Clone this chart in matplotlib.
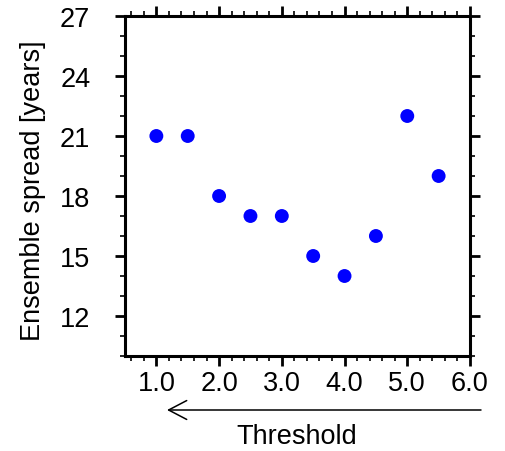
import matplotlib
matplotlib.use("Agg")
import matplotlib.pyplot as plt
from matplotlib.ticker import MultipleLocator

# data
threshold = [1.0, 1.5, 2.0, 2.5, 3.0, 3.5, 4.0, 4.5, 5.0, 5.5]
spread = [21, 21, 18, 17, 17, 15, 14, 16, 22, 19]
xticks = [1.0, 2.0, 3.0, 4.0, 5.0, 6.0]
xticklabels = ["1.0", "2.0", "3.0", "4.0", "5.0", "6.0"]
yticks = [12, 15, 18, 21, 24, 27]

plt.rcParams['font.family'] = ['Liberation Sans', 'DejaVu Sans']

W, H = 506, 452
fig = plt.figure(figsize=(W / 100, H / 100), dpi=100)
ax = fig.add_axes([125 / W, 1 - 357 / H, (470 - 125) / W, (357 - 17) / H])

ax.scatter(threshold, spread, s=100, color='#0000ff', edgecolors='none', zorder=3)

ax.set_xlim(0.5, 6.0)
ax.set_ylim(10, 27)
ax.set_xticks(xticks)
ax.set_xticklabels(xticklabels)
ax.set_yticks(yticks)
ax.xaxis.set_minor_locator(MultipleLocator(0.2))
ax.yaxis.set_minor_locator(MultipleLocator(1))

for s in ax.spines.values():
    s.set_linewidth(2.2)
ax.tick_params(which='both', direction='out', top=True, right=True,
               labeltop=False, labelright=False, labelsize=19.5)
ax.tick_params(which='major', length=7, width=2)
ax.tick_params(which='minor', length=3.3, width=1.2)
ax.tick_params(axis='x', which='major', pad=3)
ax.tick_params(axis='y', which='major', pad=18)

ax.set_ylabel("Ensemble spread [years]", fontsize=19.5)
ax.yaxis.set_label_coords((46 - 125) / 345, 0.49)

# arrow under the tick labels, pointing to lower threshold
y_arrow = 1 - 411 / H
ax.annotate('', xy=(167 / W, y_arrow), xytext=(481 / W, y_arrow),
            xycoords='figure fraction', textcoords='figure fraction',
            arrowprops=dict(arrowstyle='->,head_length=1.3,head_width=0.68',
                            lw=1.1, color='black', shrinkA=0, shrinkB=0))
fig.text(297 / W, 1 - 437 / H, "Threshold", fontsize=19.5, ha='center', va='center')

fig.savefig("out.png", dpi=100)
